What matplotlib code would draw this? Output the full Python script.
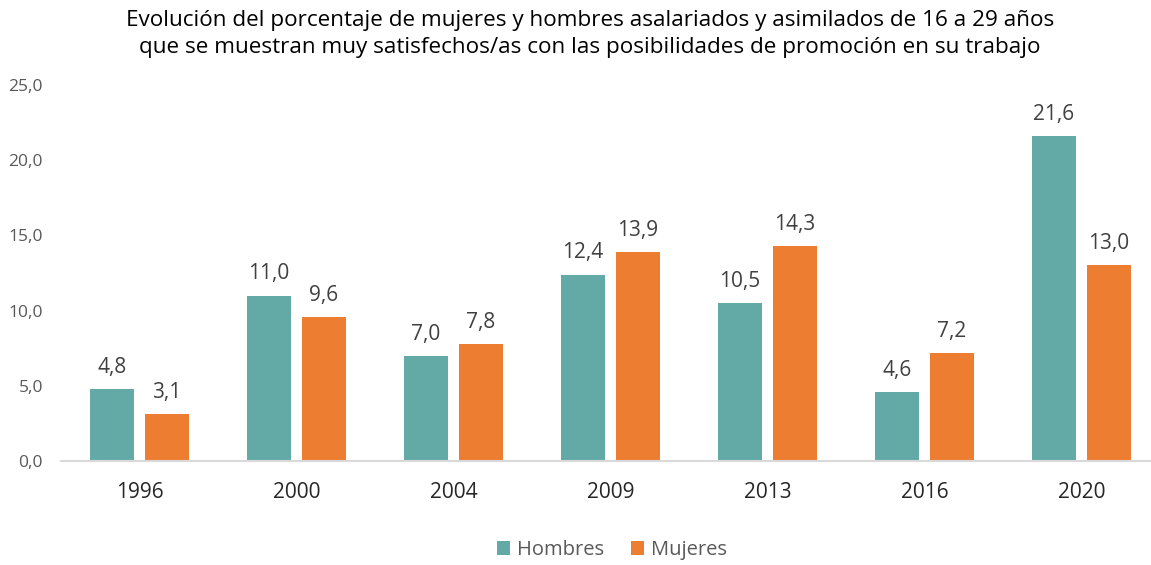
import matplotlib
matplotlib.use("Agg")
import matplotlib.pyplot as plt
import numpy as np

years = ["1996", "2000", "2004", "2009", "2013", "2016", "2020"]
hombres = [4.8, 11.0, 7.0, 12.4, 10.5, 4.6, 21.6]
mujeres = [3.1, 9.6, 7.8, 13.9, 14.3, 7.2, 13.0]
series_names = ["Hombres", "Mujeres"]
yticks = [0, 5, 10, 15, 20, 25]
title = ("Evolución del porcentaje de mujeres y hombres asalariados y asimilados de 16 a 29 años\n"
         "que se muestran muy satisfechos/as con las posibilidades de promoción en su trabajo")

plt.rcParams['font.family'] = ['Open Sans', 'DejaVu Sans']

W, H = 1151, 565
fig = plt.figure(figsize=(W/100, H/100), dpi=100)
left_px, right_px = 61, 1151
bottom_px, top_px = 461, 85
ax = fig.add_axes([left_px/W, 1 - bottom_px/H, (right_px-left_px)/W, (bottom_px-top_px)/H])

teal = "#63AAA7"
orange = "#ED7D31"
x = np.arange(len(years))
bw = 0.275
off = 0.175
b1 = ax.bar(x - off, hombres, bw, color=teal, label=series_names[0])
b2 = ax.bar(x + off, mujeres, bw, color=orange, label=series_names[1])

for bars, vals in ((b1, hombres), (b2, mujeres)):
    for rect, v in zip(bars, vals):
        ax.annotate(f"{v:.1f}".replace(".", ","), (rect.get_x()+rect.get_width()/2, v),
                    xytext=(0, 8), textcoords="offset points", ha="center", va="bottom",
                    fontsize=15, color="#404040")

ax.set_xlim(-0.5, -0.5 + (right_px-left_px)/157.0)
ax.set_ylim(0, 25)
ax.set_yticks(yticks)
ax.set_yticklabels([f"{t:.1f}".replace(".", ",") for t in yticks], fontsize=12.5, color="#595959")
ax.set_xticks(x)
ax.set_xticklabels(years, fontsize=15, color="#262626")
for s in ["top", "right", "left"]:
    ax.spines[s].set_visible(False)
ax.spines["bottom"].set_color("#D9D9D9")
ax.spines["bottom"].set_linewidth(1.5)
ax.tick_params(axis="both", length=0)
ax.tick_params(axis="y", pad=13)
ax.tick_params(axis="x", pad=15)

fig.text(590/W, 1 - 34/H, title, ha="center", va="center", fontsize=16.2, color="#000000", linespacing=1.35)

fig.legend(handles=[b1, b2], loc="center", bbox_to_anchor=(612/W, 1 - 550/H), ncol=2, frameon=False,
           fontsize=14.5, handlelength=0.65, handleheight=0.65, handletextpad=0.35, columnspacing=1.3,
           labelcolor="#595959")

fig.savefig("out.png", dpi=100)
